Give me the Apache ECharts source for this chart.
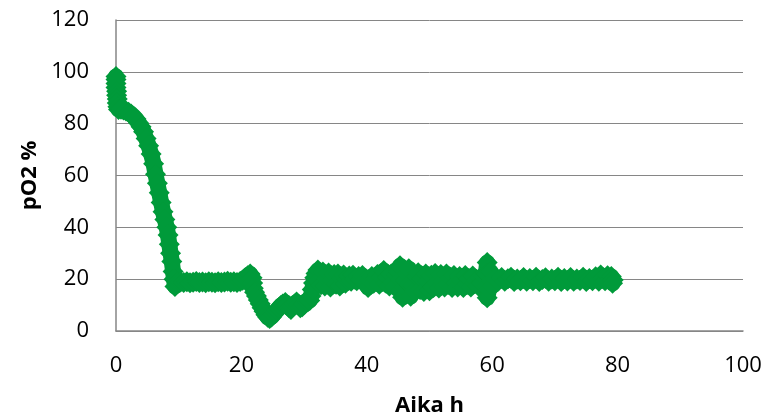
<!DOCTYPE html>
<html>
<head>
<meta charset="utf-8">
<script src="https://cdn.jsdelivr.net/npm/echarts@6/dist/echarts.min.js"></script>
<style>html,body{margin:0;padding:0;background:#fff;}#c{width:769px;height:417px;}</style>
</head>
<body>
<div id="c"></div>
<script>
// [time h, pO2 %]
const startPhase = [[0,98.2],[0,97],[0,95.5],[0,94],[0.1,92.5],[0.1,91],[0.2,89.5],[0.2,88],[0.3,86.5],[0.4,85.5]];
const dropPhase = [[0.8,85.6],[1.2,85.3],[1.6,84.9],[2,84.4],[2.4,83.7],[2.8,82.8],[3.2,81.8],[3.6,80.3],[4,78.8],[4.4,76.9],[4.8,74.3],[5.2,71.5],[5.6,68.3],[6,64.5],[6.3,60.5],[6.6,57],[6.9,53.3],[7.2,49.6],[7.5,46],[7.8,43],[8.1,40],[8.3,37],[8.5,33.5],[8.7,30],[8.9,26.8],[9.1,23],[9.25,20],[9.4,17.2]];
const flatPhase = [[9.8,18.6],[10.3,18.9],[10.8,18.7],[11.3,19],[11.8,18.6],[12.3,18.8],[12.8,19.1],[13.3,18.7],[13.8,18.9],[14.3,18.6],[14.8,19],[15.3,18.8],[15.8,18.6],[16.3,19],[16.8,18.7],[17.3,18.9],[17.8,19.2],[18.3,18.8],[18.8,19],[19.3,18.7],[19.8,19.1],[20.2,19.6],[20.6,20.5],[21,21.3],[21.4,22]];
const dipPhase = [[21.7,20.5],[21.8,18.5],[21.9,16.5],[22.1,15],[22.4,13.5],[22.7,12],[23,10.5],[23.3,9],[23.6,7.6],[23.9,6.3],[24.2,5.3],[24.5,4.8],[24.8,5.4],[25.1,6.3],[25.4,7.2],[25.7,8.1],[26,9],[26.3,9.8],[26.6,10.4],[27,11],[27.3,10],[27.6,9],[27.9,8.3],[28.2,9.4],[28.5,10.4],[28.8,11.2],[29.1,10],[29.4,9],[29.7,9.4],[30,10.4],[30.3,11.4],[30.6,11.3],[30.9,11.8],[31.1,13.5],[31.3,16],[31.5,18.5],[31.7,20.5],[31.9,22.2]];
const noisyPhase = [[32.2,23.5],[32.5,20],[32.7,17.8],[33,22.8],[33.3,17.4],[33.6,20.2],[33.9,22.4],[34.2,17],[34.5,19.6],[34.8,21.8],[35.1,18],[35.4,22],[35.7,17.4],[36,20.4],[36.3,21.6],[36.6,18.4],[36.9,20],[37.2,21.2],[37.5,19.2],[37.8,21.5],[38.1,20],[38.4,19.4],[38.7,21],[39,20],[39.3,21.4],[39.6,19.2],[39.9,18.2],[40.2,16.8],[40.5,19.5],[40.8,21],[41.1,18.4],[41.4,20.4],[41.7,21.8],[42,18],[42.3,21],[42.7,23.3],[43,18.5],[43.3,20.5],[43.6,17.4],[43.9,22],[44.2,19],[44.5,17],[44.8,21.5],[45.1,23],[45.3,25.2],[45.4,20],[45.5,15.5],[45.7,13],[46,17],[46.2,19.5],[46.5,22],[46.7,24],[46.8,18],[47,13.4],[47.3,17.5],[47.6,15.4],[47.9,21],[48.2,22.5],[48.5,16],[48.8,20],[49.1,15.2],[49.4,22],[49.7,19],[50,15.5],[50.3,21.5],[50.6,17],[50.9,22.2],[51.2,18.5],[51.5,16.6],[51.8,21.8],[52.1,19],[52.4,17],[52.7,22],[53,18],[53.3,20.5],[53.6,16.8],[53.9,21.4],[54.2,18.5],[54.5,17],[54.8,21],[55.1,19.5],[55.4,16.8],[55.7,21.4],[56,18],[56.3,20],[56.6,17],[56.9,21.2],[57.2,18.5],[57.5,19.5],[57.8,17.4],[58.1,20.5],[58.4,18.5],[58.7,21],[59,22.5],[59.2,26.4],[59.2,22],[59.2,17.5],[59.2,12.8],[59.5,16],[59.7,23],[59.9,19.5],[60.1,17.5]];
const steadyPhase = [[60.5,20.2],[61,19.3],[61.5,20.6],[62,19.2],[62.5,20.2],[63,20.7],[63.5,19.1],[64,20.1],[64.5,19.4],[65,20.6],[65.5,19.2],[66,20.3],[66.5,19.4],[67,20.7],[67.5,19.1],[68,19.9],[68.5,20.5],[69,19.2],[69.5,20.1],[70,19.4],[70.5,20.7],[71,19.1],[71.5,20.3],[72,19.3],[72.5,20.6],[73,19.2],[73.5,20.1],[74,19.5],[74.5,20.7],[75,19.1],[75.5,20.3],[76,19.4],[76.5,20.9],[77,19.2],[77.3,21.6],[77.6,20.4],[78,19.4],[78.4,21.3],[78.8,20.2],[79,21],[79.3,19.7],[79.2,18.4]];

const xMin = 0, xMax = 100, xStep = 20;
const yMin = 0, yMax = 120, yStep = 20;
const xTitle = 'Aika h';
const yTitle = 'pO2 %';

const allPoints = [].concat(startPhase, dropPhase, flatPhase, dipPhase, noisyPhase, steadyPhase);

const chart = echarts.init(document.getElementById('c'), null, {renderer: 'canvas'});
const font = '"Open Sans", sans-serif';
const green = '#009A3A';
chart.setOption({
  animation: false,
  backgroundColor: '#ffffff',
  grid: {left: 116, right: 26, top: 20, bottom: 86, containLabel: false, outerBoundsMode: 'none'},
  xAxis: {
    type: 'value', min: xMin, max: xMax, interval: xStep,
    name: xTitle, nameLocation: 'middle', nameGap: 64,
    nameTextStyle: {fontFamily: font, fontSize: 22, fontWeight: 'bold', color: '#000'},
    axisLine: {show: true, lineStyle: {color: '#868686', width: 1.5}},
    axisTick: {show: false},
    splitLine: {show: false},
    axisLabel: {fontFamily: font, fontSize: 22, color: '#000', margin: 24}
  },
  yAxis: {
    type: 'value', min: yMin, max: yMax, interval: yStep,
    name: yTitle, nameLocation: 'middle', nameGap: 73, nameRotate: 90,
    nameTextStyle: {fontFamily: font, fontSize: 22, fontWeight: 'bold', color: '#000'},
    axisLine: {show: true, lineStyle: {color: '#868686', width: 1.5}},
    axisTick: {show: false},
    splitLine: {show: true, lineStyle: {color: '#868686', width: 1}},
    axisLabel: {fontFamily: font, fontSize: 22, color: '#000', margin: 27}
  },
  series: [{
    type: 'line',
    data: allPoints,
    showSymbol: true,
    showAllSymbol: true,
    symbol: 'diamond',
    symbolSize: 21,
    lineStyle: {color: green, width: 16, join: 'round', cap: 'round'},
    itemStyle: {color: green, opacity: 1},
    emphasis: {disabled: true},
    z: 3
  }]
});
</script>
</body>
</html>
